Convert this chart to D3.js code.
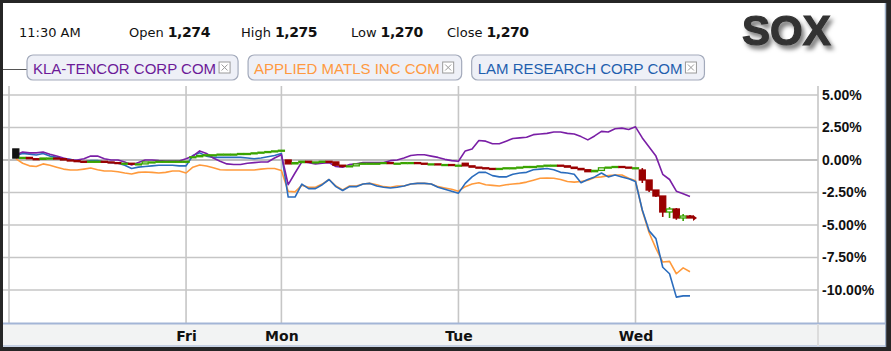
<!DOCTYPE html>
<html>
<head>
<meta charset="utf-8">
<script src="https://cdnjs.cloudflare.com/ajax/libs/d3/7.8.5/d3.min.js"></script>
<style>
body { margin: 0; background: #262626; }
svg { display: block; }
</style>
</head>
<body>
<svg></svg>
<script>
// trading days, in trading hours since the first open (Fri is a half day)
const dayLabels = ["", "Fri", "Mon", "Tue", "Wed"];
const dayStart = [0, 6.5, 10, 16.5, 23];
const barsPerDay = [26, 14, 26, 26, 8];   // 15 minute bars
const yTicks = [5, 2.5, 0, -2.5, -5, -7.5, -10];

const timeLabel = "11:30 AM";
const quoteNames = ["Open", "High", "Low", "Close"];
const quoteValues = ["1,274", "1,275", "1,270", "1,270"];
const symbol = "SOX";
const names = ["KLA-TENCOR CORP COM", "APPLIED MATLS INC COM", "LAM RESEARCH CORP COM"];

// % change, one value per 15 minute bar
const kla = [
  0.38, 0.62, 0.55, 0.55, 0.62, 0.45, 0.3, 0.15, 0.02, 0, 0.1, 0.3, 0.3, 0.1, 0, 0, -0.15, -0.38, -0.2, 0, 0, -0.05, -0.08, -0.08, -0.08, 0.1,
  0.3, 0.7, 0.5, 0.15, -0.1, -0.3, -0.35, -0.35, -0.25, -0.2, -0.15, -0.15, 0.15, 0.4,
  -1.9, -1.0, -0.15, -0.2, -0.3, -0.25, -0.2, -0.5, -0.55, -0.35, -0.3, -0.2, -0.2, -0.2, -0.2, -0.05, 0, 0.15, 0.35, 0.4, 0.4, 0.3, 0.2, 0.05, -0.05, -0.1,
  0.7, 0.85, 1.5, 1.45, 1.25, 1.25, 1.45, 1.65, 1.7, 1.75, 1.95, 2.0, 2.05, 2.15, 2.15, 2.05, 2.0, 1.8, 1.55, 1.85, 2.2, 2.15, 2.4, 2.45, 2.35, 2.55,
  1.7, 1.0, 0.3, -1.1, -1.5, -2.4, -2.6, -2.8
];
const amat = [
  0.1, -0.25, -0.45, -0.5, -0.3, -0.4, -0.55, -0.7, -0.77, -0.77, -0.7, -0.62, -0.75, -0.85, -0.85, -0.9, -1.0, -1.08, -0.95, -0.92, -0.95, -1.0, -0.95, -0.85, -0.85, -1.0,
  -0.55, -0.38, -0.46, -0.6, -0.75, -0.77, -0.77, -0.77, -0.77, -0.77, -0.7, -0.65, -0.65, -0.8,
  -2.4, -2.45, -1.95, -2.1, -2.1, -1.85, -1.5, -2.0, -2.3, -2.0, -2.0, -1.85, -1.8, -1.9, -2.05, -2.1, -2.0, -2.0, -1.85, -1.8, -1.8, -1.85, -2.05, -2.15, -2.25, -2.4,
  -2.05, -1.85, -1.75, -1.9, -1.95, -2.0, -1.9, -1.85, -1.8, -1.7, -1.55, -1.4, -1.38, -1.4, -1.5, -1.65, -1.7, -1.65, -1.55, -1.35, -1.3, -1.2, -1.15, -1.15, -1.4, -1.6,
  -3.9, -5.6, -6.8, -7.85, -7.8, -8.75, -8.3, -8.6
];
const lrcx = [
  0.35, 0.5, 0.45, 0.38, 0.5, 0.3, 0.2, 0.1, 0.05, -0.1, -0.15, -0.05, -0.05, -0.15, -0.2, -0.25, -0.4, -0.65, -0.55, -0.5, -0.45, -0.4, -0.4, -0.4, -0.45, -0.45,
  0.35, 0.55, 0.3, 0.2, 0.2, 0.2, 0.2, 0.2, 0.15, 0.1, 0.15, 0.25, 0.35, 0.5,
  -2.85, -2.85, -1.85, -2.2, -2.2, -1.9, -1.5, -2.05, -2.35, -2.05, -2.05, -1.85, -1.8, -2.0, -2.1, -2.15, -2.1, -2.0, -1.85, -1.8, -1.8, -1.85, -2.1, -2.25, -2.4, -2.55,
  -1.8, -1.3, -0.95, -0.95, -1.2, -1.3, -1.3, -1.1, -1.0, -0.95, -0.75, -0.7, -0.65, -0.75, -0.95, -1.0, -1.1, -1.75, -1.5, -1.3, -1.0, -1.3, -1.15, -1.3, -1.45, -1.65,
  -3.85, -5.45, -6.05, -8.25, -8.75, -10.55, -10.45, -10.45
];

// SOX candles: closes per bar, the open of each day, wicks for Wed
const soxClose = [
  0.15, 0.2, 0.1, 0.05, 0.15, 0.15, 0.1, 0.0, -0.05, -0.1, -0.15, -0.1, -0.1, -0.15, -0.2, -0.25, -0.25, -0.3, -0.3, -0.15, -0.15, -0.1, -0.1, -0.1, -0.1, -0.1,
  0.25, 0.35, 0.4, 0.4, 0.45, 0.45, 0.45, 0.5, 0.5, 0.55, 0.6, 0.65, 0.7, 0.75,
  -0.3, -0.2, -0.1, -0.15, -0.15, -0.1, -0.15, -0.4, -0.5, -0.45, -0.3, -0.25, -0.25, -0.25, -0.2, -0.25, -0.25, -0.2, -0.2, -0.25, -0.3, -0.3, -0.35, -0.35, -0.4, -0.4,
  -0.45, -0.55, -0.6, -0.65, -0.7, -0.65, -0.6, -0.6, -0.55, -0.5, -0.5, -0.45, -0.4, -0.4, -0.45, -0.55, -0.65, -0.75, -0.9, -0.8, -0.6, -0.55, -0.5, -0.55, -0.6, -0.6,
  -1.54, -2.31, -2.77, -4.0, -3.77, -4.46, -4.31, -4.46
];
const soxDayOpen = [0.85, 0.2, 0.0, -0.25, -0.77];
const wedHigh = [-0.62, -1.54, -2.31, -2.77, -3.62, -3.69, -4.15, -4.23];
const wedLow = [-1.77, -2.46, -2.85, -4.38, -4.46, -4.6, -4.69, -4.46];

const colors = ["#7a1fa6", "#ff9a3c", "#2a6cbd"];
const textColors = ["#6c1a98", "#ff9940", "#1f5fae"];

let width = 891;
let height = 351;
let plotLeft = 9, plotRight = 818, plotTop = 86, plotBottom = 323;
let svg = d3.select('svg').attr('width', width).attr('height', height);

let xScale, yScale;
let times = [];
let candles = [];

const buildData = () => {
    barsPerDay.forEach((n, d) => {
        for (let k = 1; k <= n; k++) {
            let i = times.length;
            times.push(dayStart[d] + k * 0.25);
            candles.push({
                t: times[i],
                o: k === 1 ? soxDayOpen[d] : soxClose[i - 1],
                c: soxClose[i],
                first: i === 0
            });
        }
    });
    let off = candles.length - wedHigh.length;
    wedHigh.forEach((h, j) => { candles[off + j].h = h; candles[off + j].l = wedLow[j]; });
};

const generateScales = () => {
    xScale = d3.scaleLinear().domain([0, 29.7]).range([plotLeft, plotRight]);
    yScale = d3.scaleLinear().domain([-12.5, 5]).range([322.5, 95]);
};

const drawFrame = () => {
    svg.append('rect').attr('x', 3).attr('y', 3).attr('width', 882).attr('height', 344).attr('fill', '#fff');
    svg.append('line').attr('x1', 885.5).attr('x2', 885.5).attr('y1', 3).attr('y2', 347)
       .attr('stroke', '#9fb0c8').attr('stroke-width', 1.5);

    // grid
    svg.append('g').selectAll('line').data(yTicks).enter().append('line')
       .attr('x1', 3).attr('x2', plotRight)
       .attr('y1', d => yScale(d)).attr('y2', d => yScale(d))
       .attr('stroke', d => d === 0 ? '#a9a9a9' : '#c6c6c6').attr('stroke-width', 1.6);
    svg.append('g').selectAll('line').data(dayStart).enter().append('line')
       .attr('x1', d => xScale(d)).attr('x2', d => xScale(d))
       .attr('y1', plotTop).attr('y2', plotBottom)
       .attr('stroke', '#c6c6c6').attr('stroke-width', 1.6);
    svg.append('line').attr('x1', plotRight).attr('x2', plotRight).attr('y1', plotTop).attr('y2', 346)
       .attr('stroke', '#c6c6c6').attr('stroke-width', 1.6);
    svg.append('line').attr('x1', 3).attr('x2', 27).attr('y1', 69.5).attr('y2', 69.5)
       .attr('stroke', '#555').attr('stroke-width', 1);

    // bottom bar
    svg.append('rect').attr('x', 3).attr('y', plotBottom).attr('width', 882).attr('height', 23).attr('fill', '#f2f3f3');
    svg.append('line').attr('x1', 3).attr('x2', 885).attr('y1', plotBottom + 0.5).attr('y2', plotBottom + 0.5)
       .attr('stroke', '#a3b5d6').attr('stroke-width', 2);
    svg.append('line').attr('x1', 3).attr('x2', 885).attr('y1', 346).attr('y2', 346)
       .attr('stroke', '#b5c3dc').attr('stroke-width', 1.5);
    svg.append('line').attr('x1', plotRight).attr('x2', plotRight).attr('y1', plotBottom + 1).attr('y2', 346)
       .attr('stroke', '#dcdcdc').attr('stroke-width', 2);
};

const drawAxes = () => {
    let xAxis = d3.axisBottom(xScale)
                  .tickValues(dayStart.slice(1))
                  .tickFormat((d, i) => dayLabels[i + 1])
                  .tickSize(0).tickPadding(0);
    let gx = svg.append('g')
       .attr('id', 'x-axis')
       .attr('transform', 'translate(0,' + 341 + ')')
       .call(xAxis);
    gx.select('.domain').remove();
    gx.selectAll('text').attr('dy', 0)
      .style('font-family', '"DejaVu Sans", sans-serif').style('font-weight', 'bold')
      .style('font-size', '14px').attr('fill', '#111');

    let yAxis = d3.axisRight(yScale)
                  .tickValues(yTicks)
                  .tickFormat(d => d.toFixed(2) + '%')
                  .tickSize(0).tickPadding(4);
    let gy = svg.append('g')
       .attr('id', 'y-axis')
       .attr('transform', 'translate(' + plotRight + ',0)')
       .call(yAxis);
    gy.select('.domain').remove();
    gy.selectAll('text')
      .style('font-family', '"Liberation Sans", Arial, sans-serif').style('font-weight', 'bold')
      .style('font-size', '14px').attr('fill', '#111');
};

const drawLines = () => {
    let line = d3.line().x((d, i) => xScale(times[i])).y(d => yScale(d));
    [[amat, 1], [lrcx, 2], [kla, 0]].forEach(([vals, c]) => {
        svg.append('path')
           .datum(vals)
           .attr('d', line)
           .attr('fill', 'none')
           .attr('stroke', colors[c])
           .attr('stroke-width', 1.6)
           .attr('stroke-linejoin', 'round');
    });
};

const drawCandles = () => {
    let bw = (xScale(0.25) - xScale(0)) * 0.88;
    let g = svg.append('g');
    let color = d => d.first ? '#111' : (d.c >= d.o ? '#3aa300' : '#990000');

    g.selectAll('line.wick')
     .data(candles.filter(d => d.h !== undefined))
     .enter().append('line')
     .attr('class', 'wick')
     .attr('x1', d => xScale(d.t)).attr('x2', d => xScale(d.t))
     .attr('y1', d => yScale(d.h)).attr('y2', d => yScale(d.l))
     .attr('stroke', color).attr('stroke-width', 1.6);

    g.selectAll('rect')
     .data(candles)
     .enter().append('rect')
     .attr('x', d => xScale(d.t) - bw / 2)
     .attr('width', bw)
     .attr('y', d => yScale(Math.max(d.o, d.c)))
     .attr('height', d => Math.max(1, Math.abs(yScale(d.o) - yScale(d.c))))
     .attr('fill', d => (d.c >= d.o && !d.first) ? '#fff' : color(d))
     .attr('stroke', color)
     .attr('stroke-width', 1.3);

    let last = candles[candles.length - 1];
    g.append('path')
     .attr('d', 'M' + (xScale(last.t) + bw / 2) + ',' + (yScale(last.c) - 3) +
                'l4,3l-4,3z')
     .attr('fill', '#990000');
};

const drawHeader = () => {
    let defs = svg.append('defs');
    let f = defs.append('filter').attr('id', 'shadow')
                .attr('x', '-20%').attr('y', '-30%').attr('width', '150%').attr('height', '180%');
    f.append('feDropShadow').attr('dx', 3).attr('dy', 4).attr('stdDeviation', 2.2)
     .attr('flood-color', '#000').attr('flood-opacity', 0.5);

    svg.append('text').attr('x', 19).attr('y', 37).text(timeLabel)
       .style('font-family', '"DejaVu Sans", sans-serif').style('font-size', '13px').attr('fill', '#111');

    let qx = [129, 241, 351, 447];
    quoteNames.forEach((q, i) => {
        let t = svg.append('text').attr('x', qx[i]).attr('y', 37)
                   .style('font-family', '"DejaVu Sans", sans-serif').attr('fill', '#111');
        t.append('tspan').text(q).style('font-size', '13px');
        t.append('tspan').attr('dx', 4).text(quoteValues[i])
         .style('font-size', '14px').style('font-weight', 'bold').attr('letter-spacing', -0.4);
    });

    svg.append('text').attr('x', 742).attr('y', 45).text(symbol)
       .style('font-family', '"Liberation Sans", Arial, sans-serif').style('font-weight', 'bold')
       .style('font-size', '42px').attr('fill', '#333').attr('stroke', '#333').attr('stroke-width', 1.2)
       .attr('filter', 'url(#shadow)');
};

const drawLegend = () => {
    let x = 27;
    names.forEach((n, i) => {
        let g = svg.append('g').attr('transform', 'translate(' + x + ',55)');
        let box = g.append('rect').attr('y', 0).attr('height', 25).attr('rx', 6)
                   .attr('fill', '#eef0f7').attr('stroke', '#a3aabb').attr('stroke-width', 1.2);
        let t = g.append('text').attr('x', 6).attr('y', 18.5).text(n)
                 .style('font-family', '"Liberation Sans", Arial, sans-serif')
                 .style('font-size', '15px').attr('fill', textColors[i]);
        let tw = t.node().getComputedTextLength();
        let ix = 6 + tw + 3;
        g.append('rect').attr('x', ix).attr('y', 7).attr('width', 11).attr('height', 11)
         .attr('fill', '#fff').attr('stroke', '#9a9a9a');
        g.append('path').attr('d', 'M' + (ix + 2.5) + ',9.5l6,6m0,-6l-6,6')
         .attr('stroke', '#9a9a9a').attr('stroke-width', 1);
        let w = ix + 11 + 8;
        box.attr('width', w);
        x += w + 10;
    });
};

buildData();
generateScales();
drawFrame();
drawAxes();
drawLines();
drawCandles();
drawHeader();
drawLegend();
</script>
</body>
</html>
